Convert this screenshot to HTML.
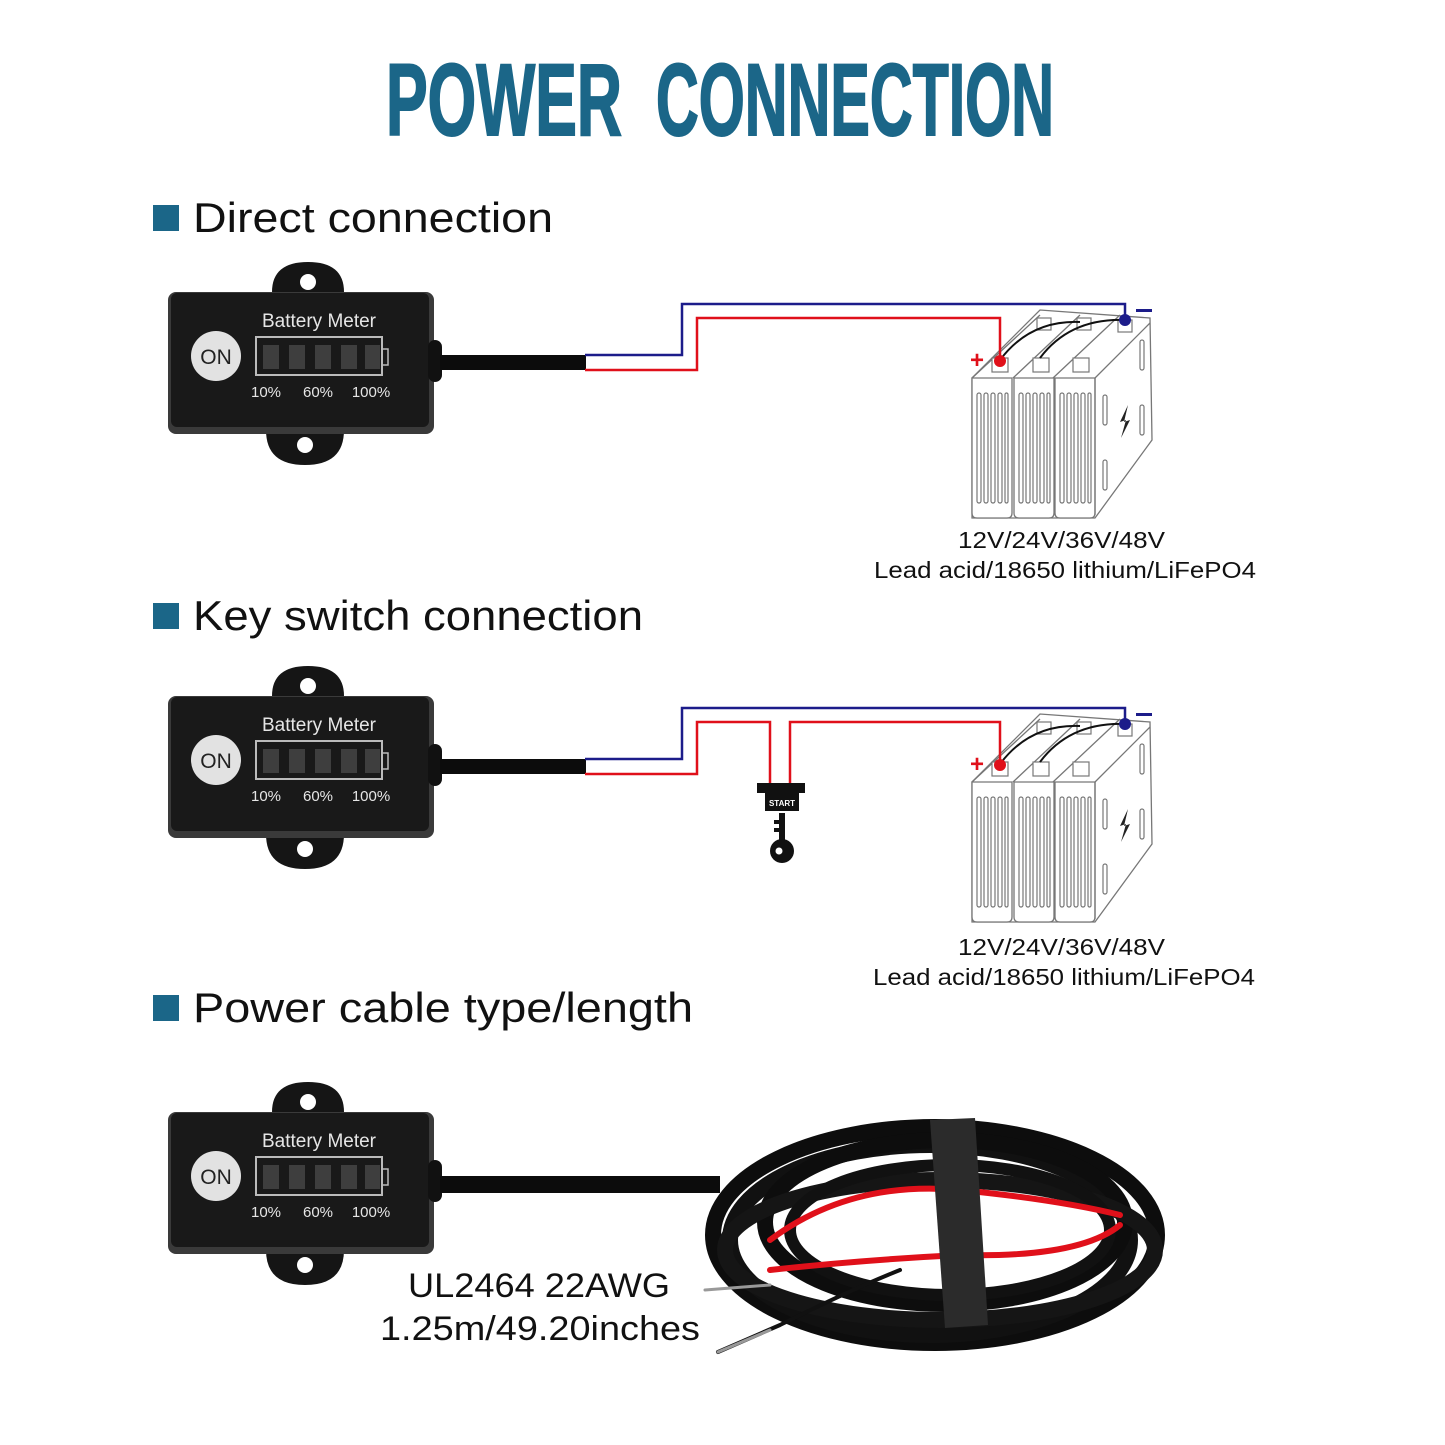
<!DOCTYPE html>
<html><head><meta charset="utf-8"><style>
html,body{margin:0;padding:0;background:#fff}
svg{display:block}
text{font-family:"Liberation Sans",sans-serif}
</style></head><body>
<svg width="1445" height="1445" viewBox="0 0 1445 1445" xmlns="http://www.w3.org/2000/svg">
<defs>
<g id="meter">
  <path d="M272,292 Q272,262 308,262 Q344,262 344,292 Z" fill="#151515"/>
  <circle cx="308" cy="282" r="8" fill="#fff"/>
  <path d="M266,430 Q266,465 305,465 Q344,465 344,430 Z" fill="#151515"/>
  <circle cx="305" cy="445" r="8" fill="#fff"/>
  <rect x="168" y="292" width="266" height="142" rx="8" fill="#3a3a3a"/>
  <rect x="171" y="293" width="258" height="134" rx="6" fill="#191919"/>
  <rect x="428" y="340" width="14" height="42" rx="7" fill="#111"/>
  <text x="319" y="327" font-size="19" fill="#e6e6e6" text-anchor="middle">Battery Meter</text>
  <circle cx="216" cy="356" r="25" fill="#e2e2e2"/>
  <text x="216" y="364" font-size="21" fill="#222" text-anchor="middle">ON</text>
  <rect x="256" y="337" width="126" height="38" fill="none" stroke="#bbb" stroke-width="2"/>
  <rect x="382" y="349" width="6" height="16" fill="none" stroke="#bbb" stroke-width="1.5"/>
  <rect x="263" y="345" width="16" height="24" fill="#3e3e3e"/>
  <rect x="289" y="345" width="16" height="24" fill="#3e3e3e"/>
  <rect x="315" y="345" width="16" height="24" fill="#3e3e3e"/>
  <rect x="341" y="345" width="16" height="24" fill="#3e3e3e"/>
  <rect x="365" y="345" width="15" height="24" fill="#3e3e3e"/>
  <text x="266" y="397" font-size="15" fill="#e6e6e6" text-anchor="middle">10%</text>
  <text x="318" y="397" font-size="15" fill="#e6e6e6" text-anchor="middle">60%</text>
  <text x="371" y="397" font-size="15" fill="#e6e6e6" text-anchor="middle">100%</text>
</g>
<g id="cell">
  <path d="M0,60 L0,195 Q0,200 5,200 L35,200 Q40,200 40,195 L40,60 Z" fill="#fff" stroke="#777" stroke-width="1.3"/>
  <g stroke="#777" stroke-width="1.2" fill="none">
    <rect x="5" y="75" width="4" height="110" rx="2"/>
    <rect x="12" y="75" width="4" height="110" rx="2"/>
    <rect x="19" y="75" width="4" height="110" rx="2"/>
    <rect x="26" y="75" width="4" height="110" rx="2"/>
    <rect x="33" y="75" width="3" height="110" rx="1.5"/>
  </g>
</g>
<g id="batt">
  <path d="M972,378 L1040,310 L1150,318 L1152,440 L1095,518 L972,518 Z" fill="#fff" stroke="#777" stroke-width="1.3"/>
  <path d="M972,378 L1040,315 M1013,378 L1080,315 M1053,378 L1120,315 M1095,378 L1150,323" stroke="#777" stroke-width="1.3" fill="none"/>
  <use href="#cell" x="972" y="318"/>
  <use href="#cell" x="1014" y="318"/>
  <use href="#cell" x="1055" y="318"/>
  <path d="M1095,378 L1095,515" stroke="#777" stroke-width="1.3"/>
  <g stroke="#777" stroke-width="1.2" fill="none">
    <rect x="1103" y="395" width="4" height="30" rx="2"/><rect x="1103" y="460" width="4" height="30" rx="2"/>
    <rect x="1140" y="340" width="4" height="30" rx="2"/><rect x="1140" y="405" width="4" height="30" rx="2"/>
  </g>
  <path d="M1128,405 L1124,422 L1130,420 L1121,438 L1126,420 L1120,422 Z" fill="#222"/>
  <g fill="#fff" stroke="#777" stroke-width="1.2">
    <rect x="992" y="358" width="16" height="14"/><rect x="1033" y="358" width="16" height="14"/><rect x="1073" y="358" width="16" height="14"/>
    <rect x="1037" y="318" width="14" height="12"/><rect x="1077" y="318" width="14" height="12"/><rect x="1118" y="320" width="14" height="12"/>
  </g>
  <path d="M1000,360 Q1030,320 1080,322 M1040,358 Q1070,318 1125,320" stroke="#111" stroke-width="2" fill="none"/>
</g>
</defs>

<text x="386" y="135" font-size="102" font-weight="bold" fill="#1b6688" textLength="236" lengthAdjust="spacingAndGlyphs" stroke="#1b6688" stroke-width="2">POWER</text>
<text x="656" y="135" font-size="102" font-weight="bold" fill="#1b6688" textLength="398" lengthAdjust="spacingAndGlyphs" stroke="#1b6688" stroke-width="2">CONNECTION</text>

<rect x="153" y="205" width="26" height="26" fill="#1b6688"/>
<text x="193" y="232" font-size="42" fill="#111" textLength="360" lengthAdjust="spacingAndGlyphs">Direct connection</text>
<rect x="153" y="603" width="26" height="26" fill="#1b6688"/>
<text x="193" y="630" font-size="42" fill="#111" textLength="450" lengthAdjust="spacingAndGlyphs">Key switch connection</text>
<rect x="153" y="995" width="26" height="26" fill="#1b6688"/>
<text x="193" y="1022" font-size="42" fill="#111" textLength="500" lengthAdjust="spacingAndGlyphs">Power cable type/length</text>

<!-- Section 1 -->
<use href="#meter"/>
<rect x="440" y="355" width="146" height="15" fill="#0c0c0c"/>
<use href="#batt"/>
<path d="M585,355 H682 V304 H1125 V320" stroke="#1c1c8a" stroke-width="2.5" fill="none"/>
<path d="M585,370 H697 V318 H1000 V360" stroke="#e0101a" stroke-width="2.5" fill="none"/>
<circle cx="1000" cy="361" r="6" fill="#e0101a"/>
<circle cx="1125" cy="320" r="6" fill="#1c1c8a"/>
<text x="977" y="368" font-size="24" font-weight="bold" fill="#e0101a" text-anchor="middle">+</text>
<rect x="1136" y="309" width="16" height="3" fill="#1c1c8a"/>
<text x="958" y="548" font-size="23" fill="#111" textLength="207" lengthAdjust="spacingAndGlyphs">12V/24V/36V/48V</text>
<text x="874" y="578" font-size="23" fill="#111" textLength="382" lengthAdjust="spacingAndGlyphs">Lead acid/18650 lithium/LiFePO4</text>

<!-- Section 2 -->
<use href="#meter" y="404"/>
<rect x="440" y="759" width="146" height="15" fill="#0c0c0c"/>
<use href="#batt" y="404"/>
<path d="M585,759 H682 V708 H1125 V724" stroke="#1c1c8a" stroke-width="2.5" fill="none"/>
<path d="M585,774 H697 V722 H770 V783 M790,783 V722 H1000 V764" stroke="#e0101a" stroke-width="2.5" fill="none"/>
<circle cx="1000" cy="765" r="6" fill="#e0101a"/>
<circle cx="1125" cy="724" r="6" fill="#1c1c8a"/>
<text x="977" y="772" font-size="24" font-weight="bold" fill="#e0101a" text-anchor="middle">+</text>
<rect x="1136" y="713" width="16" height="3" fill="#1c1c8a"/>
<rect x="757" y="783" width="48" height="10" fill="#111"/>
<rect x="765" y="793" width="34" height="18" fill="#111"/>
<text x="782" y="806" font-size="8" font-weight="bold" fill="#fff" text-anchor="middle">START</text>
<rect x="779" y="813" width="6" height="30" fill="#111"/>
<rect x="774" y="820" width="5" height="4" fill="#111"/><rect x="774" y="828" width="5" height="4" fill="#111"/>
<circle cx="782" cy="851" r="12" fill="#111"/>
<circle cx="779" cy="851" r="3.5" fill="#fff"/>
<text x="958" y="955" font-size="23" fill="#111" textLength="207" lengthAdjust="spacingAndGlyphs">12V/24V/36V/48V</text>
<text x="873" y="985" font-size="23" fill="#111" textLength="382" lengthAdjust="spacingAndGlyphs">Lead acid/18650 lithium/LiFePO4</text>

<!-- Section 3 -->
<use href="#meter" y="820"/>
<rect x="440" y="1176" width="280" height="17" fill="#0c0c0c"/>
<g fill="none" stroke-linecap="round">
  <ellipse cx="935" cy="1235" rx="222" ry="108" stroke="#0d0d0d" stroke-width="16"/>
  <ellipse cx="930" cy="1240" rx="200" ry="95" stroke="#111" stroke-width="16"/>
  <ellipse cx="945" cy="1222" rx="180" ry="82" stroke="#0d0d0d" stroke-width="16"/>
  <ellipse cx="940" cy="1250" rx="215" ry="70" stroke="#151515" stroke-width="16"/>
  <ellipse cx="950" cy="1230" rx="160" ry="65" stroke="#111" stroke-width="12"/>
  <path d="M770,1240 Q850,1180 960,1190 Q1060,1200 1120,1215" stroke="#e0101a" stroke-width="6"/>
  <path d="M770,1270 Q860,1260 960,1255 Q1080,1258 1120,1225" stroke="#e0101a" stroke-width="6"/>
  <path d="M705,1290 L770,1285" stroke="#999" stroke-width="3"/>
  <path d="M718,1352 L780,1325 Q850,1290 900,1270" stroke="#111" stroke-width="4"/>
  <path d="M718,1352 L770,1330" stroke="#999" stroke-width="3"/>
</g>
<path d="M930,1120 L975,1118 L988,1325 L945,1328 Z" fill="#2b2b2b"/>
<text x="408" y="1297" font-size="34" fill="#111" textLength="262" lengthAdjust="spacingAndGlyphs">UL2464 22AWG</text>
<text x="380" y="1340" font-size="34" fill="#111" textLength="320" lengthAdjust="spacingAndGlyphs">1.25m/49.20inches</text>
</svg>
</body></html>
